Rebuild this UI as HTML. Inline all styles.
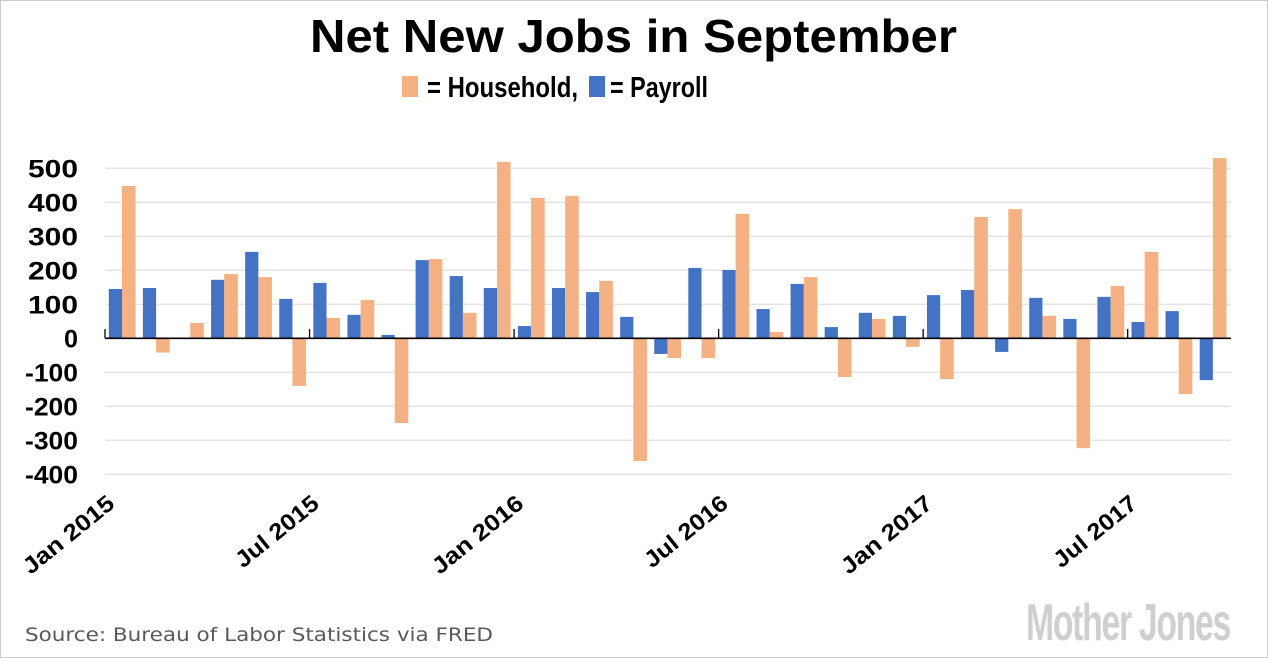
<!DOCTYPE html>
<html><head><meta charset="utf-8"><style>
html,body{margin:0;padding:0;background:#fff;}
svg{display:block;}
</style></head><body>
<svg width="1268" height="658" viewBox="0 0 1268 658" xmlns="http://www.w3.org/2000/svg" font-family="Liberation Sans, sans-serif">
<rect x="0.5" y="0.5" width="1267" height="657" fill="#fff" stroke="#cccccc"/>
<text x="310" y="52" font-size="46" font-weight="bold" fill="#000" textLength="647" lengthAdjust="spacingAndGlyphs">Net New Jobs in September</text>
<rect x="402" y="76" width="16" height="21" fill="#f4b183"/>
<rect x="589" y="76" width="16" height="21" fill="#4472c4"/>
<text x="427" y="97" font-size="29" font-weight="bold" fill="#000" textLength="151" lengthAdjust="spacingAndGlyphs">= Household,</text>
<text x="610" y="97" font-size="29" font-weight="bold" fill="#000" textLength="98" lengthAdjust="spacingAndGlyphs">= Payroll</text>
<g stroke="#e3e3e3" stroke-width="1.3" id="grid"></g>
<g id="bars"></g>
<g id="ylab" font-size="25" font-weight="bold" text-anchor="end" fill="#000"></g>
<g id="xlab" font-size="23" font-weight="bold" fill="#000"></g>
<line x1="105" y1="338.3" x2="1231" y2="338.3" stroke="#000" stroke-width="1.6"/>
<g id="ticks" stroke="#000" stroke-width="1.3"></g>
<text x="25" y="641" font-family="DejaVu Sans, sans-serif" font-size="19" fill="#595959" textLength="468" lengthAdjust="spacingAndGlyphs">Source: Bureau of Labor Statistics via FRED</text>
<text x="1026" y="640" font-size="52" font-weight="bold" fill="#cfcfcf" textLength="204" lengthAdjust="spacingAndGlyphs" letter-spacing="-2">Mother Jones</text>
<script>
var ns="http://www.w3.org/2000/svg";
function el(p,t,a,txt){var e=document.createElementNS(ns,t);for(var k in a)e.setAttribute(k,a[k]);if(txt)e.textContent=txt;document.getElementById(p).appendChild(e);return e;}
var z=338.3,s=0.34;
var ys=[500,400,300,200,100,0,-100,-200,-300,-400];
ys.forEach(function(v){var y=z-v*s;if(v!==0)el("grid","line",{x1:105,x2:1231,y1:y,y2:y});
 var L=String(v);var tl=L.length==1?14:(L.length==3?50:(L.length==4?53:0));
 el("ylab","text",{x:78,y:y+9,textLength:tl,lengthAdjust:"spacingAndGlyphs"},L);});
var P=[145,148,0,172,254,116,163,69,10,230,183,148,36,148,136,63,-46,207,201,86,160,33,75,66,127,142,-40,119,57,122,48,80,-123];
var H=[448,-42,45,189,180,-140,60,113,-249,233,75,519,413,419,169,-361,-58,-58,366,19,180,-114,57,-25,-120,357,380,66,-323,154,254,-164,530];
var w=34.09;
for(var i=0;i<33;i++){var x0=105+i*w;
 [[P[i],x0+3.8,13.2,"#4472c4"],[H[i],x0+17,13.6,"#f4b183"]].forEach(function(b){var v=b[0];if(v===0)return;var h=Math.abs(v)*s;el("bars","rect",{x:b[1],width:b[2],y:v>0?z-h:z,height:h,fill:b[3]});});
}
var labs=["Jan 2015","Jul 2015","Jan 2016","Jul 2016","Jan 2017","Jul 2017"];
labs.forEach(function(l,j){var x=105+j*6*w;el("ticks","line",{x1:x,x2:x,y1:329,y2:338});
 var tl=l.indexOf("Jul")==0?100:110;
 el("xlab","text",{x:-tl,y:0,textLength:tl,lengthAdjust:"spacingAndGlyphs",transform:"translate("+(x+11)+",506) rotate(-39)"},l);});
</script>
</svg>
</body></html>
